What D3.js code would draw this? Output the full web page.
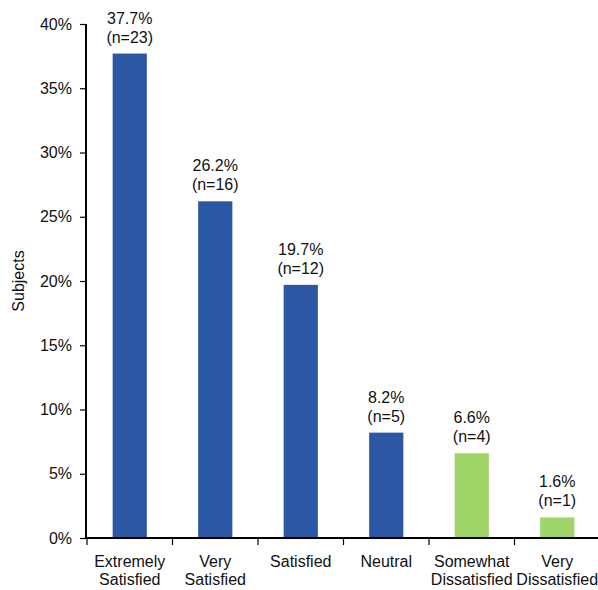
<!DOCTYPE html>
<html>
<head>
<meta charset="utf-8">
<script src="https://cdn.jsdelivr.net/npm/d3@7/dist/d3.min.js"></script>
<style>
  html, body { margin: 0; padding: 0; background: #fff; }
  svg { display: block; font-family: "Liberation Sans", Arial, Helvetica, sans-serif; }
</style>
</head>
<body>
<svg id="chart" width="598" height="590"></svg>
<script>
// Satisfaction ratings: share of subjects and counts per category
const categories = [
  ["Extremely", "Satisfied"],
  ["Very", "Satisfied"],
  ["Satisfied"],
  ["Neutral"],
  ["Somewhat", "Dissatisfied"],
  ["Very", "Dissatisfied"]
];
const percents = [37.7, 26.2, 19.7, 8.2, 6.6, 1.6];
const counts = [23, 16, 12, 5, 4, 1];
const groups = ["sat", "sat", "sat", "sat", "dis", "dis"];
const yTicks = [0, 5, 10, 15, 20, 25, 30, 35, 40];

const colors = { sat: "#2b57a5", dis: "#9fd569" };

const svg = d3.select("#chart");
const margin = { left: 87, right: -2, top: 24, bottom: 52 };
const W = 598, H = 590;

const keys = categories.map((c, i) => i);
const x = d3.scaleBand()
  .domain(keys)
  .range([margin.left, W - margin.right])
  .paddingInner(0.6)
  .paddingOuter(0.3);

const y = d3.scaleLinear()
  .domain([0, 40])
  .range([H - margin.bottom, margin.top]);

// Bars
svg.append("g")
  .selectAll("rect")
  .data(keys)
  .join("rect")
  .attr("x", i => x(i))
  .attr("width", x.bandwidth())
  .attr("y", i => y(percents[i]))
  .attr("height", i => y(0) - y(percents[i]))
  .attr("fill", i => colors[groups[i]]);

// Value labels above bars
const lbl = svg.append("g")
  .attr("font-size", 16)
  .attr("fill", "#111")
  .attr("text-anchor", "middle");
keys.forEach(i => {
  const cx = x(i) + x.bandwidth() / 2;
  const top = y(percents[i]);
  lbl.append("text").attr("x", cx).attr("y", top - 30).text(percents[i].toFixed(1) + "%");
  lbl.append("text").attr("x", cx).attr("y", top - 11).text("(n=" + counts[i] + ")");
});

// Y axis
const yAxis = svg.append("g")
  .attr("transform", `translate(${margin.left - 1},0)`)
  .call(d3.axisLeft(y).tickValues(yTicks).tickFormat(d => d + "%").tickSize(6).tickPadding(8));
yAxis.select(".domain").attr("stroke", "#000").attr("stroke-width", 2).attr("d", `M0,${y(40)}V${y(0) + 1}`);
yAxis.selectAll(".tick line").attr("stroke", "#000").attr("stroke-width", 1.2);
yAxis.selectAll(".tick text").attr("font-size", 16).attr("fill", "#111")
  .attr("font-family", "'Liberation Sans', Arial, sans-serif");

// X axis with ticks at category boundaries
const step = x.step();
const x0 = margin.left;
const bounds = d3.range(categories.length).map(i => x0 + i * step);
const xAxis = svg.append("g");
xAxis.append("line")
  .attr("x1", margin.left - 2).attr("x2", W)
  .attr("y1", y(0)).attr("y2", y(0))
  .attr("stroke", "#000").attr("stroke-width", 2);
xAxis.selectAll("line.tk")
  .data(bounds)
  .join("line")
  .attr("class", "tk")
  .attr("x1", d => d).attr("x2", d => d)
  .attr("y1", y(0)).attr("y2", y(0) + 7)
  .attr("stroke", "#000").attr("stroke-width", 1.2);

// Category labels
const cat = svg.append("g")
  .attr("font-size", 16)
  .attr("fill", "#111")
  .attr("text-anchor", "middle");
keys.forEach(i => {
  const t = cat.append("text")
    .attr("x", x(i) + x.bandwidth() / 2)
    .attr("y", 567);
  categories[i].forEach((line, j) => {
    t.append("tspan")
      .attr("x", x(i) + x.bandwidth() / 2)
      .attr("dy", j === 0 ? 0 : 18)
      .text(line);
  });
});

// Y axis title
svg.append("text")
  .attr("transform", `translate(24,281) rotate(-90)`)
  .attr("text-anchor", "middle")
  .attr("font-size", 16)
  .attr("fill", "#111")
  .text("Subjects");
</script>
</body>
</html>
